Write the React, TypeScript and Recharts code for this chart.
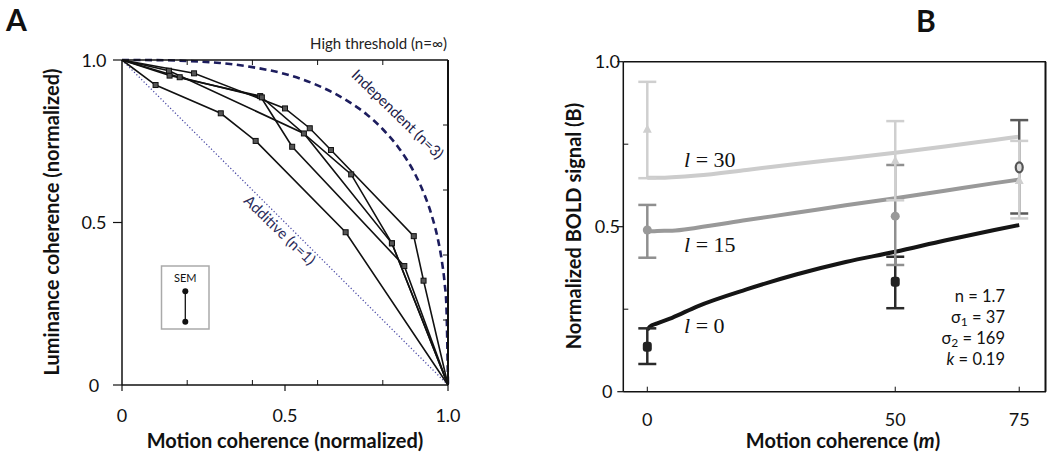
import React from "react";
import { ComposedChart, Line, Scatter, ErrorBar, XAxis, YAxis } from "recharts";

// ---- Panel A: iso-detection curves, five observers ----
const obs1 = [
  { x: 0, y: 1 }, { x: 0.103, y: 0.923 }, { x: 0.303, y: 0.836 },
  { x: 0.41, y: 0.751 }, { x: 0.686, y: 0.47 }, { x: 1, y: 0 },
];
const obs2 = [
  { x: 0, y: 1 }, { x: 0.146, y: 0.952 }, { x: 0.424, y: 0.889 },
  { x: 0.522, y: 0.733 }, { x: 0.866, y: 0.366 }, { x: 1, y: 0 },
];
const obs3 = [
  { x: 0, y: 1 }, { x: 0.177, y: 0.947 }, { x: 0.429, y: 0.885 },
  { x: 0.703, y: 0.648 }, { x: 0.828, y: 0.436 }, { x: 1, y: 0 },
];
const obs4 = [
  { x: 0, y: 1 }, { x: 0.144, y: 0.967 }, { x: 0.558, y: 0.774 },
  { x: 0.828, y: 0.436 }, { x: 1, y: 0 },
];
const obs5 = [
  { x: 0, y: 1 }, { x: 0.221, y: 0.959 }, { x: 0.5, y: 0.851 },
  { x: 0.576, y: 0.79 }, { x: 0.641, y: 0.723 }, { x: 0.895, y: 0.458 },
  { x: 0.925, y: 0.321 }, { x: 1, y: 0 },
];
const observers = [obs1, obs2, obs3, obs4, obs5];

// model predictions
const additiveX = [0, 1];
const additiveY = [1, 0];
const indepX = [0, 0.1, 0.2, 0.3, 0.4, 0.5, 0.6, 0.7, 0.75, 0.8, 0.85, 0.9, 0.93, 0.95, 0.97, 0.98, 0.99, 0.995, 1];
const indepY = [1, 0.9997, 0.997, 0.991, 0.978, 0.957, 0.922, 0.869, 0.833, 0.787, 0.728, 0.647, 0.58, 0.522, 0.444, 0.389, 0.31, 0.246, 0];

const aXTicks = [0, 0.2, 0.4, 0.5, 0.6, 0.8, 1];
const aYTicks = [0, 0.2, 0.4, 0.5, 0.6, 0.8, 1];
const aMinor = [0.2, 0.4, 0.6, 0.8];

// ---- Panel B: normalized BOLD vs motion coherence ----
const fitX = [0, 0.5, 2, 5, 10, 20, 30, 40, 50, 60, 70, 75];
const fitL30 = [0.648, 0.648, 0.648, 0.65, 0.655, 0.672, 0.69, 0.707, 0.724, 0.743, 0.763, 0.773];
const fitL15 = [0.486, 0.486, 0.487, 0.488, 0.497, 0.52, 0.542, 0.565, 0.586, 0.609, 0.632, 0.643];
const fitL0 = [0.187, 0.197, 0.207, 0.224, 0.258, 0.31, 0.355, 0.393, 0.424, 0.458, 0.49, 0.505];

const motion = [0, 50, 75];
const meanL30 = [0.795, 0.7, 0.64];
const loL30 = [0.647, 0.58, 0.525];
const hiL30 = [0.939, 0.82, 0.76];
const motionL15 = [0, 50];
const meanL15 = [0.49, 0.532];
const loL15 = [0.406, 0.384];
const hiL15 = [0.566, 0.687];
const meanL0 = [0.136, 0.333, 0.68];
const loL0 = [0.084, 0.253, 0.54];
const hiL0 = [0.192, 0.409, 0.823];

const bXTicks = [0, 50, 75];
const bYTicks = [0, 0.25, 0.5, 0.75, 1];
const bDomain = [-4.84, 80.4];

const toPts = (xs: number[], ys: number[]) => xs.map((x, i) => ({ x, y: ys[i] }));
const toErr = (xs: number[], m: number[], lo: number[], hi: number[]) =>
  xs.map((x, i) => ({ x, y: m[i], err: [m[i] - lo[i], hi[i] - m[i]] }));

const FONT = "Lato, 'Open Sans', sans-serif";
const INK = "#111";

const fmt = (v: number) => (v === 0 ? "0" : v === 1 ? "1.0" : String(v));
const isMajor = (v: number) => v === 0 || v === 0.5 || v === 1;

// frame geometry (px) – plot boxes of both panels
const A_BOX = { left: 122, top: 60, right: 448, bottom: 385 };
const B_BOX = { left: 623.3, top: 61.7, right: 1045.5, bottom: 391.7 };

// custom tick painters (axis tickSize/tickMargin are 0, so x/y sit on the axis line)
const aBottomTick = (p: any) => {
  const v = p.payload.value;
  return (
    <g key={`ab${v}`}>
      {isMajor(v) ? (
        <>
          <line x1={p.x} x2={p.x} y1={p.y} y2={p.y + 6} stroke={INK} strokeWidth={1.2} />
          <text x={p.x} y={p.y + 37} textAnchor="middle" fontSize={18} fontFamily={FONT} fill={INK}>
            {fmt(v)}
          </text>
        </>
      ) : (
        <line x1={p.x} x2={p.x} y1={p.y} y2={p.y - 5} stroke={INK} strokeWidth={1} />
      )}
    </g>
  );
};
const aLeftTick = (p: any) => {
  const v = p.payload.value;
  if (!isMajor(v)) return <g key={`al${v}`} />;
  return (
    <g key={`al${v}`}>
      <line x1={p.x} x2={p.x - 9} y1={p.y} y2={p.y} stroke={INK} strokeWidth={1.2} />
      <text x={p.x - 28} y={p.y + 6.5} textAnchor="middle" fontSize={18} fontFamily={FONT} fill={INK}>
        {fmt(v)}
      </text>
    </g>
  );
};
const topMinorTick = (p: any) => (
  <line key={`t${p.payload.value}`} x1={p.x} x2={p.x} y1={p.y} y2={p.y + 5} stroke={INK} strokeWidth={1} />
);

const bLeftTick = (p: any) => {
  const v = p.payload.value;
  return (
    <g key={`bl${v}`}>
      {isMajor(v) ? (
        <>
          <line x1={p.x} x2={p.x - 6} y1={p.y} y2={p.y} stroke={INK} strokeWidth={1.2} />
          <text x={p.x - 16} y={p.y + 6.5} textAnchor="middle" fontSize={18} fontFamily={FONT} fill={INK}>
            {fmt(v)}
          </text>
        </>
      ) : (
        <line x1={p.x} x2={p.x + 5} y1={p.y} y2={p.y} stroke={INK} strokeWidth={1} />
      )}
    </g>
  );
};
const bBottomTick = (p: any) => {
  const v = p.payload.value;
  return (
    <g key={`bb${v}`}>
      <line x1={p.x} x2={p.x} y1={p.y} y2={p.y - 5} stroke={INK} strokeWidth={1} />
      <text x={p.x} y={p.y + 34} textAnchor="middle" fontSize={18} fontFamily={FONT} fill={INK}>
        {v}
      </text>
    </g>
  );
};
const noTick = (p: any) => <g key={`n${p.index}`} />;

const squareDot = (p: any) => {
  const { cx, cy, payload, index } = p;
  if (payload.x === 0 || payload.x === 1) return <g key={index} />;
  return <rect key={index} x={cx - 2.5} y={cy - 2.5} width={5} height={5} fill="#555" stroke={INK} strokeWidth={1} />;
};

const triangle = (p: any) => (
  <path d={`M${p.cx},${p.cy - 5} L${p.cx + 4.5},${p.cy + 3.5} L${p.cx - 4.5},${p.cy + 3.5} Z`} fill="#cfcfcf" />
);
const circle = (p: any) => <circle cx={p.cx} cy={p.cy} r={4.5} fill="#999" />;
const blob = (p: any) => <rect x={p.cx - 4.5} y={p.cy - 5} width={9} height={10} rx={3} fill="#222" />;
const ring = (p: any) => (
  <ellipse cx={p.cx} cy={p.cy} rx={3.5} ry={5} fill="#ddd" stroke="#555" strokeWidth={2.2} />
);

const axisLine = { stroke: INK, strokeWidth: 1.5 };

// axes are 1px thick (a 0px axis is not drawn), margins are trimmed by 1 to compensate
function PanelA() {
  return (
    <ComposedChart
      width={470}
      height={461}
      margin={{ top: 59, right: 22, bottom: 75, left: 121 }}
      style={{ position: "absolute", left: 0, top: 0 }}
    >
      <XAxis xAxisId="b" type="number" dataKey="x" domain={[0, 1]} ticks={aXTicks} interval={0}
        height={1} tickSize={0} tickMargin={0} tickLine={false} axisLine={axisLine} tick={aBottomTick} />
      <XAxis xAxisId="t" orientation="top" type="number" dataKey="x" domain={[0, 1]} ticks={aMinor} interval={0}
        height={1} tickSize={0} tickMargin={0} tickLine={false} axisLine={axisLine} tick={topMinorTick} allowDataOverflow />
      <YAxis yAxisId="l" type="number" dataKey="y" domain={[0, 1]} ticks={aYTicks} interval={0}
        width={1} tickSize={0} tickMargin={0} tickLine={false} axisLine={axisLine} tick={aLeftTick} />
      <Line xAxisId="b" yAxisId="l" data={toPts(additiveX, additiveY)} dataKey="y" stroke="#4b4ba6"
        strokeWidth={1.3} strokeDasharray="1.2 2.2" dot={false} isAnimationActive={false} />
      <Line xAxisId="b" yAxisId="l" data={toPts(indepX, indepY)} dataKey="y" type="monotone" stroke="#1d1d5e"
        strokeWidth={2.6} strokeDasharray="7 4.5" dot={false} isAnimationActive={false} />
      {observers.map((o, i) => (
        <Line key={i} xAxisId="b" yAxisId="l" data={o} dataKey="y" stroke={INK} strokeWidth={1.6}
          dot={squareDot} activeDot={false} isAnimationActive={false} />
      ))}
    </ComposedChart>
  );
}

function PanelB() {
  return (
    <ComposedChart
      width={530}
      height={461}
      margin={{ top: 60.7, right: 4, bottom: 68.3, left: 102.3 }}
      style={{ position: "absolute", left: 520, top: 0 }}
    >
      <XAxis xAxisId="b" type="number" dataKey="x" domain={bDomain} ticks={bXTicks} interval={0}
        height={1} tickSize={0} tickMargin={0} tickLine={false} axisLine={axisLine} tick={bBottomTick} allowDataOverflow />
      <XAxis xAxisId="t" orientation="top" type="number" dataKey="x" domain={bDomain} ticks={[0]}
        height={1} tickSize={0} tickLine={false} axisLine={axisLine} tick={noTick} allowDataOverflow />
      <YAxis yAxisId="l" type="number" dataKey="y" domain={[0, 1]} ticks={bYTicks} interval={0}
        width={1} tickSize={0} tickMargin={0} tickLine={false} axisLine={axisLine} tick={bLeftTick} />
      <Line xAxisId="b" yAxisId="l" data={toPts(fitX, fitL30)} dataKey="y" type="monotone" stroke="#cccccc"
        strokeWidth={4} dot={false} isAnimationActive={false} />
      <Line xAxisId="b" yAxisId="l" data={toPts(fitX, fitL15)} dataKey="y" type="monotone" stroke="#999999"
        strokeWidth={4} dot={false} isAnimationActive={false} />
      <Line xAxisId="b" yAxisId="l" data={toPts(fitX, fitL0)} dataKey="y" type="monotone" stroke="#151515"
        strokeWidth={4} dot={false} isAnimationActive={false} />
      <Scatter xAxisId="b" yAxisId="l" data={toErr(motion, meanL0, loL0, hiL0).slice(0, 2)} dataKey="y" shape={blob}
        fill="#222" isAnimationActive={false}>
        <ErrorBar dataKey="err" direction="y" width={9} stroke="#2a2a2a" strokeWidth={2.5} isAnimationActive={false} />
      </Scatter>
      <Scatter xAxisId="b" yAxisId="l" data={toErr(motion, meanL0, loL0, hiL0).slice(2)} dataKey="y" shape={ring}
        fill="#555" isAnimationActive={false}>
        <ErrorBar dataKey="err" direction="y" width={9} stroke="#5a5a5a" strokeWidth={2.5} isAnimationActive={false} />
      </Scatter>
      <Scatter xAxisId="b" yAxisId="l" data={toErr(motionL15, meanL15, loL15, hiL15)} dataKey="y" shape={circle}
        fill="#999" isAnimationActive={false}>
        <ErrorBar dataKey="err" direction="y" width={9} stroke="#8f8f8f" strokeWidth={2.5} isAnimationActive={false} />
      </Scatter>
      <Scatter xAxisId="b" yAxisId="l" data={toErr(motion, meanL30, loL30, hiL30)} dataKey="y" shape={triangle}
        fill="#ccc" isAnimationActive={false}>
        <ErrorBar dataKey="err" direction="y" width={9} stroke="#cfcfcf" strokeWidth={2.5} isAnimationActive={false} />
      </Scatter>
    </ComposedChart>
  );
}

function Annotations() {
  const bold = { fontFamily: FONT, fontWeight: 700, fill: INK } as const;
  const serif = { fontFamily: "'Liberation Serif', 'DejaVu Serif', serif", fontSize: 22, fill: INK } as const;
  const par = { fontFamily: FONT, fontSize: 16.5, fill: INK, textAnchor: "end" } as const;
  const aH = A_BOX.bottom - A_BOX.top;
  return (
    <svg width={1050} height={461} style={{ position: "absolute", left: 0, top: 0, pointerEvents: "none" }}>
      {/* right-hand frame edges */}
      <path d={`M${A_BOX.right},${A_BOX.top} V${A_BOX.bottom}`} stroke={INK} strokeWidth={2} fill="none" />
      {aMinor.map((v) => (
        <line key={v} x1={A_BOX.right} x2={A_BOX.right - 5} y1={A_BOX.bottom - v * aH} y2={A_BOX.bottom - v * aH}
          stroke={INK} strokeWidth={1} />
      ))}
      <path d={`M${B_BOX.right},${B_BOX.top} V${B_BOX.bottom}`} stroke={INK} strokeWidth={2} fill="none" />

      <text x={6} y={31} fontSize={30} {...bold}>A</text>
      <text x={916} y={32} fontSize={30} {...bold}>B</text>

      <text transform="translate(59,222) rotate(-90)" textAnchor="middle" fontSize={20} {...bold}>
        Luminance coherence (normalized)
      </text>
      <text x={285} y={448} textAnchor="middle" fontSize={20} {...bold}>Motion coherence (normalized)</text>

      <text x={447} y={49} textAnchor="end" fontSize={15} fontFamily={FONT} fill="#222">High threshold (n=∞)</text>
      <text transform="translate(394,118) rotate(44)" textAnchor="middle" fontSize={15} fontFamily={FONT} fill="#1d1d4a">
        Independent (n=3)
      </text>
      <text transform="translate(276,234) rotate(44)" textAnchor="middle" fontSize={15} fontFamily={FONT} fill="#2b2b5a">
        Additive (n=1)
      </text>

      <rect x={161.5} y={266} width={47.5} height={63} fill="#fff" stroke="#aaa" strokeWidth={1.5} />
      <text x={185.3} y={282} textAnchor="middle" fontSize={11} fontFamily={FONT} fill={INK}>SEM</text>
      <line x1={185.3} x2={185.3} y1={291.3} y2={321.7} stroke={INK} strokeWidth={1.3} />
      <circle cx={185.3} cy={291.3} r={3} fill={INK} />
      <circle cx={185.3} cy={321.7} r={3} fill={INK} />

      <text transform="translate(581,226) rotate(-90)" textAnchor="middle" fontSize={20} {...bold}>
        Normalized BOLD signal (B)
      </text>
      <text x={843} y={448} textAnchor="middle" fontSize={20} {...bold}>
        Motion coherence (<tspan fontStyle="italic">m</tspan>)
      </text>

      <text x={684} y={167} {...serif}><tspan fontStyle="italic">l</tspan> = 30</text>
      <text x={684} y={252} {...serif}><tspan fontStyle="italic">l</tspan> = 15</text>
      <text x={684} y={333} {...serif}><tspan fontStyle="italic">l</tspan> = 0</text>

      <text x={1005} y={302} {...par}>n = 1.7</text>
      <text x={1005} y={323} {...par}>σ<tspan fontSize={12} dy={3}>1</tspan><tspan dy={-3}> = 37</tspan></text>
      <text x={1005} y={344} {...par}>σ<tspan fontSize={12} dy={3}>2</tspan><tspan dy={-3}> = 169</tspan></text>
      <text x={1005} y={365} {...par}><tspan fontStyle="italic">k</tspan> = 0.19</text>
    </svg>
  );
}

export default function App() {
  return (
    <div style={{ position: "absolute", left: 0, top: 0, width: 1050, height: 461, background: "#fff" }}>
      <PanelA />
      <PanelB />
      <Annotations />
    </div>
  );
}
